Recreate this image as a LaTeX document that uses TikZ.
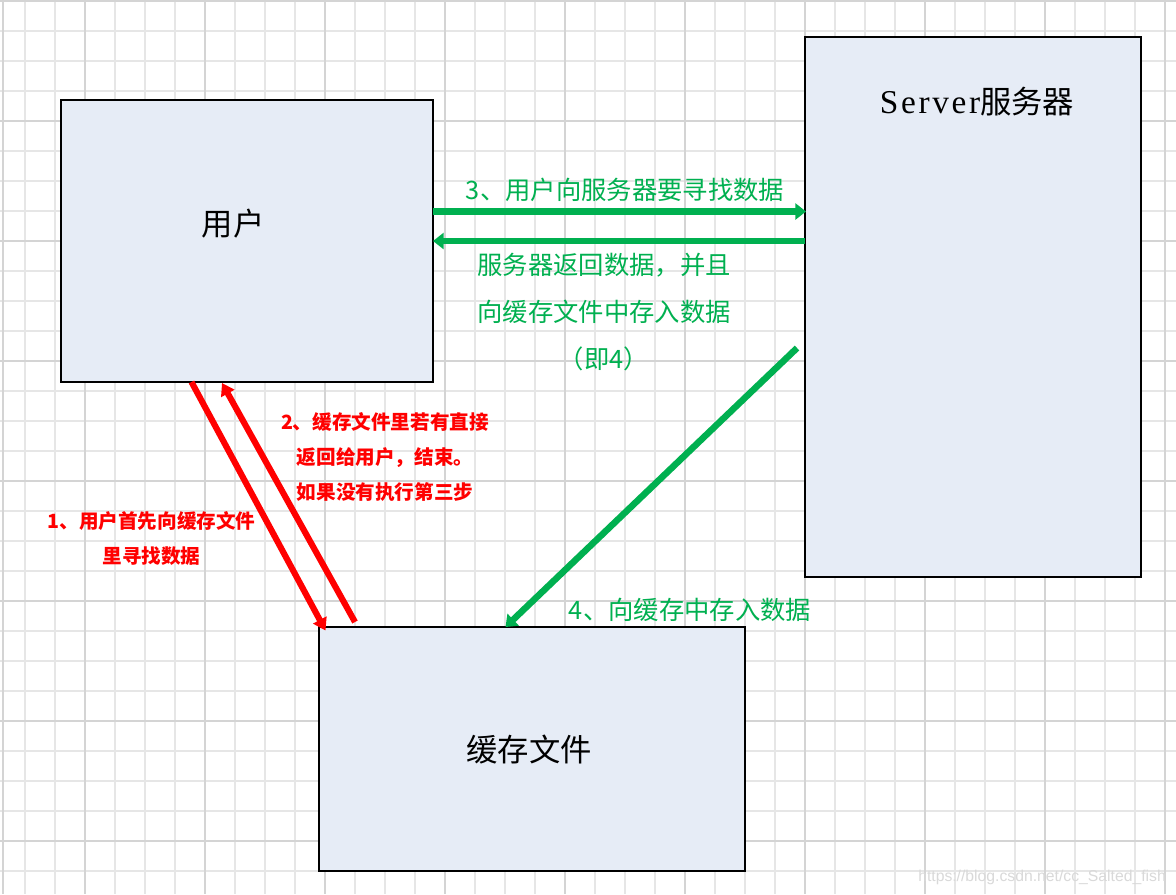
\documentclass[tikz,border=0pt]{standalone}
\usepackage{fontspec}
\setmainfont{Noto Sans CJK SC}
\newfontfamily\latinserif[LetterSpace=8]{Liberation Serif}
\newfontfamily\wmfont{Liberation Sans}
\usetikzlibrary{arrows.meta,calc}
\definecolor{boxfill}{HTML}{E6ECF6}
\definecolor{ogreen}{HTML}{00B050}
\definecolor{ored}{HTML}{FF0000}
\definecolor{gridminor}{HTML}{E6E6E6}
\definecolor{gridmajor}{HTML}{D4D4D4}
\begin{document}
\begin{tikzpicture}[x=0.75pt,y=-0.75pt,
  box/.style={draw=black,line width=0.8pt,fill=boxfill,inner sep=0pt,outer sep=0pt},
  boxtext/.style={font=\fontsize{23.5pt}{28pt}\selectfont,inner sep=0pt},
  glabel/.style={text=ogreen,font=\fontsize{19pt}{34.9pt}\selectfont,inner sep=0pt,align=center},
  rlabel/.style={text=ored,font=\bfseries\fontsize{14.7pt}{26pt}\selectfont,inner sep=0pt,align=center},
  garrow/.style={draw=ogreen,line width=4.9pt,-{Triangle[length=8pt,width=12pt]}},
  rarrow/.style={draw=ored,line width=4.6pt,-{Triangle[length=9pt,width=11pt]}},
  gminor/.style={draw=gridminor,line width=1.1pt},
  gmajor/.style={draw=gridmajor,line width=1.1pt}]
\useasboundingbox (0,0) rectangle (1176,894);
\fill[white] (0,0) rectangle (1176,894);
% grid
\foreach \x in {25,55,...,1165} \draw[gminor] (\x,0) -- (\x,894);
\foreach \y in {1,31,...,871} \draw[gminor] (0,\y) -- (1176,\y);
\foreach \x in {85,205,...,1165} \draw[gmajor] (\x,0) -- (\x,894);
\foreach \y in {1,121,...,841} \draw[gmajor] (0,\y) -- (1176,\y);
\draw[gmajor] (3,0) -- (3,894);
% boxes
\node[box,minimum width=279pt,minimum height=211.5pt] (user) at (247,241) {};
\node[box,minimum width=252pt,minimum height=405pt] (server) at (973,307) {};
\node[box,minimum width=319.5pt,minimum height=183pt] (cache) at (532,749) {};
\node[boxtext] (userlabel) at (233,224) {用户};
\node[boxtext] (serverlabel) at (977,102) {{\latinserif\fontsize{25pt}{28pt}\selectfont Server}服务器};
\node[boxtext] (cachelabel) at (529,750) {缓存文件};
% arrows
\draw[garrow] ($(user.east)+(0,-29.5)$) -- ($(server.west)+(1,-95.5)$);
\draw[garrow] ($(server.west)+(0,-66)$) -- (user.east);
\draw[garrow] ($(server.south west)+(-8,-229)$) -- ($(cache.north west)+(186.5,0)$);
\draw[rarrow] ($(user.south west)+(130.5,0)$) -- ($(cache.north west)+(6.5,3.5)$);
\draw[rarrow] ($(cache.north west)+(36,-5)$) -- ($(user.south west)+(161,1)$);
% labels
\node[glabel] (l3) at (625,190) {3、用户向服务器要寻找数据};
\node[glabel] (lret) at (604,312) {服务器返回数据，并且\\向缓存文件中存入数据\\（即4）};
\node[glabel] (l4) at (690,610) {4、向缓存中存入数据};
\node[rlabel] (l2) at (385,457) {2、缓存文件里若有直接\\返回给用户，结束。\\如果没有执行第三步};
\node[rlabel] (l1) at (151.5,538.5) {1、用户首先向缓存文件\\里寻找数据};
\node[font=\wmfont\fontsize{11.8pt}{13pt}\selectfont,text=black!15,inner sep=0pt] (wm) at (1042,877) {https://blog.csdn.net/cc\_Salted\_fish};
\end{tikzpicture}
\end{document}
